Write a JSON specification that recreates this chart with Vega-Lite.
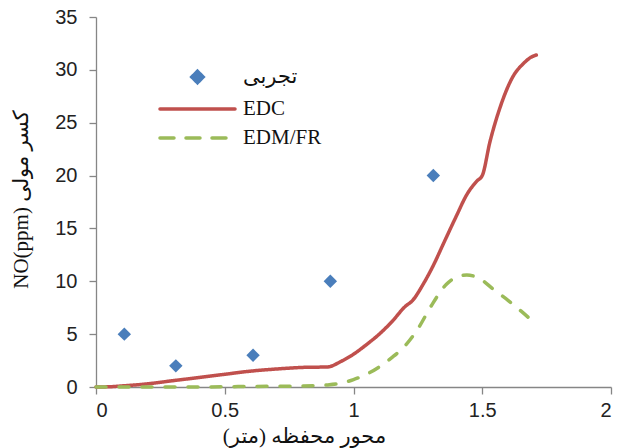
{
  "$schema": "https://vega.github.io/schema/vega-lite/v6.json",
  "autosize": "none",
  "width": 515,
  "height": 370,
  "padding": {"left": 96, "top": 17, "right": 21, "bottom": 61},
  "background": "white",
  "config": {
    "view": {"stroke": null},
    "axis": {
      "domainColor": "#868686",
      "tickColor": "#868686",
      "domainWidth": 1.3,
      "tickWidth": 1.3,
      "tickSize": 7,
      "grid": false,
      "labelFont": "Liberation Sans",
      "labelFontSize": 20,
      "labelColor": "#222222",
      "titleFont": "Liberation Serif, DejaVu Sans",
      "titleFontSize": 21,
      "titleFontWeight": "normal",
      "titleColor": "#111111"
    }
  },
  "datasets": {
    "exp": [
      {"x": 0.11, "y": 5, "series": "تجربی"},
      {"x": 0.31, "y": 2, "series": "تجربی"},
      {"x": 0.61, "y": 3, "series": "تجربی"},
      {"x": 0.91, "y": 10, "series": "تجربی"},
      {"x": 1.31, "y": 20, "series": "تجربی"}
    ],
    "lines": [
      {"x": 0.0, "y": 0.0, "series": "EDC"},
      {"x": 0.05, "y": 0.02, "series": "EDC"},
      {"x": 0.1, "y": 0.1, "series": "EDC"},
      {"x": 0.2, "y": 0.3, "series": "EDC"},
      {"x": 0.3, "y": 0.6, "series": "EDC"},
      {"x": 0.4, "y": 0.9, "series": "EDC"},
      {"x": 0.5, "y": 1.2, "series": "EDC"},
      {"x": 0.6, "y": 1.5, "series": "EDC"},
      {"x": 0.7, "y": 1.7, "series": "EDC"},
      {"x": 0.8, "y": 1.85, "series": "EDC"},
      {"x": 0.9, "y": 1.9, "series": "EDC"},
      {"x": 0.95, "y": 2.4, "series": "EDC"},
      {"x": 1.0, "y": 3.1, "series": "EDC"},
      {"x": 1.05, "y": 4.0, "series": "EDC"},
      {"x": 1.1, "y": 5.0, "series": "EDC"},
      {"x": 1.15, "y": 6.2, "series": "EDC"},
      {"x": 1.2, "y": 7.6, "series": "EDC"},
      {"x": 1.23, "y": 8.2, "series": "EDC"},
      {"x": 1.27, "y": 9.7, "series": "EDC"},
      {"x": 1.31, "y": 11.5, "series": "EDC"},
      {"x": 1.35, "y": 13.6, "series": "EDC"},
      {"x": 1.4, "y": 16.2, "series": "EDC"},
      {"x": 1.44, "y": 18.2, "series": "EDC"},
      {"x": 1.48, "y": 19.5, "series": "EDC"},
      {"x": 1.5, "y": 20.0, "series": "EDC"},
      {"x": 1.53, "y": 23.2, "series": "EDC"},
      {"x": 1.57, "y": 26.5, "series": "EDC"},
      {"x": 1.62, "y": 29.4, "series": "EDC"},
      {"x": 1.66, "y": 30.6, "series": "EDC"},
      {"x": 1.69, "y": 31.2, "series": "EDC"},
      {"x": 1.71, "y": 31.4, "series": "EDC"},
      {"x": 0.0, "y": 0.0, "series": "EDM/FR"},
      {"x": 0.2, "y": 0.0, "series": "EDM/FR"},
      {"x": 0.4, "y": 0.0, "series": "EDM/FR"},
      {"x": 0.6, "y": 0.05, "series": "EDM/FR"},
      {"x": 0.8, "y": 0.1, "series": "EDM/FR"},
      {"x": 0.9, "y": 0.2, "series": "EDM/FR"},
      {"x": 0.95, "y": 0.35, "series": "EDM/FR"},
      {"x": 1.0, "y": 0.7, "series": "EDM/FR"},
      {"x": 1.05, "y": 1.2, "series": "EDM/FR"},
      {"x": 1.1, "y": 1.9, "series": "EDM/FR"},
      {"x": 1.15, "y": 2.8, "series": "EDM/FR"},
      {"x": 1.2, "y": 3.9, "series": "EDM/FR"},
      {"x": 1.25, "y": 5.5, "series": "EDM/FR"},
      {"x": 1.3, "y": 7.6, "series": "EDM/FR"},
      {"x": 1.36, "y": 9.7, "series": "EDM/FR"},
      {"x": 1.4, "y": 10.4, "series": "EDM/FR"},
      {"x": 1.44, "y": 10.6, "series": "EDM/FR"},
      {"x": 1.5, "y": 10.1, "series": "EDM/FR"},
      {"x": 1.54, "y": 9.3, "series": "EDM/FR"},
      {"x": 1.6, "y": 8.2, "series": "EDM/FR"},
      {"x": 1.65, "y": 7.2, "series": "EDM/FR"},
      {"x": 1.71, "y": 5.9, "series": "EDM/FR"}
    ]
  },
  "encoding": {
    "x": {
      "field": "x", "type": "quantitative",
      "scale": {"domain": [0, 2], "nice": false},
      "axis": {
        "values": [0, 0.5, 1, 1.5, 2],
        "format": "~g",
        "labelPadding": 6,
        "title": "محور محفظه (متر)‏",
        "titleX": 208, "titleY": 55, "titleBaseline": "alphabetic", "titleAnchor": "middle", "titleAlign": "center"
      }
    },
    "y": {
      "field": "y", "type": "quantitative",
      "scale": {"domain": [0, 35], "nice": false},
      "axis": {
        "values": [0, 5, 10, 15, 20, 25, 30, 35],
        "labelPadding": 12,
        "title": "NO(ppm) کسر مولی",
        "titleX": -75, "titleY": 182, "titleAngle": -90, "titleBaseline": "middle", "titleAlign": "center"
      }
    },
    "color": {
      "field": "series", "type": "nominal",
      "scale": {"domain": ["تجربی", "EDC", "EDM/FR"], "range": ["#4a7ebb", "#c0504d", "#9bbb59"]},
      "legend": {
        "title": null,
        "orient": "none",
        "legendX": 91,
        "legendY": 49.5,
        "padding": 0,
        "symbolSize": 130,
        "symbolStrokeWidth": 3.5,
        "labelFont": "Liberation Serif, DejaVu Sans",
        "labelFontSize": 21,
        "labelColor": "#111111",
        "labelOffset": 35,
        "rowPadding": 7,
        "labelLimit": 300,
        "encode": {
          "symbols": {
            "update": {
              "shape": {"signal": "datum.value == 'تجربی' ? 'diamond' : 'M-6.58,0H6.58'"},
              "size": {"value": 130},
              "fill": {"signal": "datum.value == 'تجربی' ? '#4a7ebb' : 'transparent'"},
              "stroke": {"signal": "datum.value == 'تجربی' ? 'transparent' : (datum.value == 'EDC' ? '#c0504d' : '#9bbb59')"},
              "strokeWidth": {"value": 3.5},
              "strokeDash": {"signal": "datum.value == 'EDM/FR' ? [14, 12] : [1, 0]"},
              "strokeCap": {"value": "round"},
              "opacity": {"value": 1}
            }
          }
        }
      }
    }
  },
  "layer": [
    {
      "data": {"name": "lines"},
      "mark": {"type": "line", "strokeWidth": 3.5, "interpolate": "monotone", "strokeCap": "round"},
      "encoding": {
        "strokeDash": {
          "field": "series", "type": "nominal",
          "scale": {"domain": ["EDC", "EDM/FR"], "range": [[1, 0], [10, 13]]},
          "legend": null
        }
      }
    },
    {
      "data": {"name": "exp"},
      "mark": {"type": "point", "shape": "diamond", "filled": true, "size": 180, "opacity": 1}
    }
  ]
}
